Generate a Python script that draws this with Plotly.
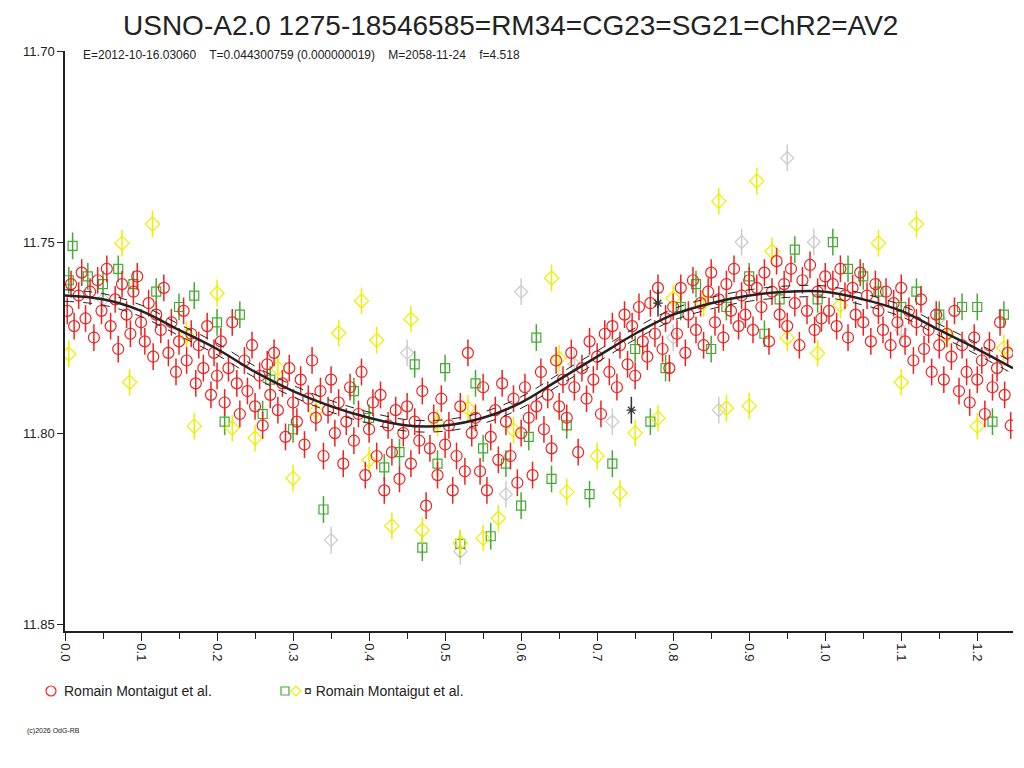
import plotly.graph_objects as go

red_phase = [0.003,0.008,0.012,0.018,0.022,0.027,0.033,0.038,0.043,0.048,0.055,0.06,0.066,0.07,0.075,0.081,0.086,0.09,0.095,0.1,
0.105,0.11,0.116,0.12,0.126,0.13,0.136,0.14,0.146,0.15,0.156,0.16,0.166,0.172,0.176,0.182,0.187,0.192,0.196,0.2,
0.205,0.21,0.215,0.22,0.226,0.23,0.236,0.24,0.246,0.25,0.256,0.26,0.266,0.27,0.275,0.28,0.286,0.29,0.295,0.3,
0.305,0.31,0.315,0.32,0.325,0.33,0.336,0.34,0.346,0.35,0.355,0.36,0.366,0.37,0.375,0.38,0.386,0.39,0.395,0.4,
0.405,0.41,0.415,0.42,0.425,0.43,0.435,0.44,0.445,0.45,0.455,0.46,0.466,0.47,0.475,0.48,0.485,0.49,0.495,0.5,
0.505,0.51,0.515,0.52,0.526,0.53,0.535,0.54,0.546,0.55,0.555,0.56,0.566,0.57,0.575,0.58,0.586,0.59,0.595,0.6,
0.605,0.61,0.615,0.62,0.626,0.63,0.635,0.64,0.646,0.65,0.655,0.66,0.666,0.67,0.675,0.68,0.686,0.69,0.695,0.7,
0.705,0.71,0.716,0.72,0.726,0.73,0.736,0.74,0.746,0.75,0.755,0.76,0.766,0.77,0.776,0.78,0.786,0.79,0.795,0.8,
0.805,0.81,0.816,0.82,0.826,0.83,0.836,0.84,0.846,0.85,0.855,0.86,0.866,0.87,0.876,0.88,0.886,0.89,0.895,0.9,
0.905,0.91,0.916,0.92,0.926,0.93,0.936,0.94,0.946,0.95,0.955,0.96,0.966,0.97,0.976,0.98,0.986,0.99,0.995,1.0,
1.005,1.01,1.015,1.02,1.026,1.03,1.036,1.04,1.046,1.05,1.055,1.06,1.066,1.07,1.076,1.08,1.086,1.09,1.095,1.1,
1.105,1.11,1.116,1.12,1.126,1.13,1.136,1.14,1.146,1.15,1.156,1.16,1.166,1.17,1.176,1.18,1.186,1.19,1.196,1.2,
1.206,1.21,1.216,1.22,1.226,1.23,1.236,1.24,1.244]
red_mag = [11.768,11.761,11.772,11.764,11.758,11.770,11.763,11.775,11.760,11.768,11.757,11.772,11.765,11.778,11.761,11.769,11.774,11.763,11.759,11.771,
11.776,11.766,11.780,11.769,11.773,11.762,11.779,11.771,11.784,11.776,11.768,11.781,11.774,11.787,11.777,11.783,11.772,11.790,11.779,11.785,
11.776,11.792,11.783,11.771,11.787,11.795,11.781,11.789,11.777,11.793,11.785,11.798,11.782,11.790,11.779,11.794,11.787,11.801,11.783,11.792,
11.797,11.786,11.803,11.791,11.781,11.796,11.789,11.806,11.794,11.786,11.800,11.792,11.808,11.797,11.788,11.802,11.795,11.784,11.811,11.799,
11.792,11.806,11.790,11.815,11.798,11.805,11.794,11.812,11.800,11.793,11.808,11.797,11.802,11.789,11.819,11.804,11.796,11.811,11.791,11.803,
11.798,11.815,11.806,11.793,11.810,11.779,11.800,11.796,11.810,11.788,11.815,11.801,11.794,11.807,11.787,11.797,11.806,11.791,11.813,11.800,
11.788,11.796,11.811,11.793,11.784,11.799,11.790,11.804,11.781,11.793,11.786,11.796,11.779,11.788,11.805,11.783,11.791,11.776,11.786,11.780,
11.795,11.774,11.784,11.772,11.788,11.777,11.769,11.782,11.772,11.785,11.767,11.776,11.780,11.766,11.774,11.762,11.778,11.770,11.783,11.767,
11.774,11.762,11.779,11.769,11.760,11.773,11.766,11.777,11.763,11.758,11.771,11.765,11.775,11.761,11.768,11.757,11.772,11.764,11.769,11.760,
11.773,11.762,11.767,11.758,11.776,11.763,11.755,11.769,11.761,11.772,11.757,11.766,11.777,11.760,11.768,11.756,11.773,11.763,11.770,11.759,
11.768,11.761,11.772,11.757,11.764,11.775,11.762,11.769,11.758,11.771,11.764,11.776,11.761,11.768,11.773,11.763,11.777,11.766,11.771,11.762,
11.776,11.768,11.781,11.771,11.765,11.778,11.773,11.784,11.769,11.777,11.786,11.774,11.780,11.768,11.789,11.777,11.784,11.792,11.775,11.786,
11.781,11.795,11.777,11.788,11.783,11.771,11.790,11.779,11.798]

green_phase = [0.005,0.01,0.03,0.05,0.07,0.09,0.12,0.15,0.17,0.2,0.21,0.23,0.26,0.27,0.3,0.34,0.38,0.4,0.42,0.44,
0.46,0.47,0.49,0.5,0.52,0.54,0.55,0.56,0.58,0.6,0.61,0.62,0.64,0.66,0.69,0.72,0.75,0.77,0.79,0.81,
0.83,0.85,0.87,0.9,0.92,0.94,0.96,0.99,1.01,1.03,1.05,1.07,1.1,1.12,1.15,1.18,1.2,1.22,1.235]
green_mag = [11.760,11.751,11.759,11.761,11.757,11.761,11.763,11.767,11.764,11.771,11.797,11.769,11.795,11.786,11.799,11.820,11.789,11.796,11.809,11.805,
11.782,11.830,11.808,11.783,11.829,11.787,11.804,11.827,11.808,11.819,11.801,11.775,11.812,11.798,11.816,11.808,11.778,11.797,11.783,11.767,
11.761,11.778,11.767,11.759,11.774,11.765,11.752,11.765,11.750,11.757,11.759,11.763,11.767,11.763,11.769,11.767,11.767,11.797,11.769]

yellow_phase = [0.005,0.075,0.085,0.115,0.16,0.17,0.2,0.22,0.25,0.28,0.3,0.33,0.36,0.39,0.4,0.41,0.43,0.455,0.47,0.49,
0.52,0.53,0.55,0.57,0.59,0.64,0.65,0.66,0.7,0.73,0.75,0.78,0.8,0.84,0.86,0.87,0.9,0.91,0.93,0.95,
0.99,1.02,1.07,1.1,1.12,1.16,1.2,1.235]
yellow_mag = [11.7793,11.7503,11.7867,11.7453,11.7743,11.7982,11.7634,11.7987,11.8013,11.7830,11.8118,11.7942,11.7738,11.7654,11.8071,11.7757,11.8243,11.7702,11.8254,11.7974,
11.8288,11.7935,11.8275,11.8223,11.7992,11.7594,11.7804,11.8154,11.8060,11.8157,11.8000,11.7961,11.7647,11.7660,11.7393,11.7935,11.7929,11.7340,11.7524,11.7751,
11.7791,11.7665,11.7503,11.7867,11.7453,11.7743,11.7982,11.7777]

grey_phase = [0.05,0.35,0.45,0.52,0.58,0.6,0.67,0.72,0.8,0.86,0.89,0.95,0.985,1.1,1.15]
grey_mag = [11.765,11.828,11.779,11.831,11.816,11.763,11.782,11.797,11.775,11.794,11.750,11.728,11.750,11.773,11.770]

star_phase = [0.745,0.78]
star_mag = [11.794,11.766]

fit_phase = [0.0,0.05,0.1,0.15,0.2,0.25,0.3,0.35,0.4,0.45,0.5,0.55,0.6,0.65,0.7,0.75,0.8,0.85,0.9,0.95,1.0,1.05,1.1,1.15,1.2,1.247]
fit_mag = [11.764,11.765,11.768,11.773,11.778,11.784,11.789,11.793,11.796,11.798,11.798,11.796,11.792,11.786,11.780,11.774,11.769,11.766,11.764,11.763,11.763,11.765,11.768,11.773,11.778,11.783]
fit_err = 0.0015
point_err = 0.0035

x_ticks = [0.0,0.1,0.2,0.3,0.4,0.5,0.6,0.7,0.8,0.9,1.0,1.1,1.2]
y_ticks = [11.70,11.75,11.80,11.85]

FONT = "Liberation Sans, Arial, sans-serif"
fig = go.Figure()

def pts(xs, ys, color, symbol, size):
    fig.add_trace(go.Scatter(
        x=xs, y=ys, mode="markers", showlegend=False,
        marker=dict(symbol=symbol, size=size, color=color, line=dict(color=color, width=1.2)),
        error_y=dict(type="constant", value=point_err, color=color, thickness=1.5, width=0)))

pts(grey_phase, grey_mag, "#cccccc", "diamond-open", 10)
pts(green_phase, green_mag, "#44aa33", "square-open", 9)
pts(yellow_phase, yellow_mag, "#eeee00", "diamond-open", 11)
pts(red_phase, red_mag, "#ee2222", "circle-open", 11)
pts(star_phase, star_mag, "#333333", "asterisk-open", 8)

fig.add_trace(go.Scatter(x=fit_phase, y=[m - fit_err for m in fit_mag], mode="lines", showlegend=False,
                         line=dict(color="#222222", width=1, dash="dash", shape="spline")))
fig.add_trace(go.Scatter(x=fit_phase, y=[m + fit_err for m in fit_mag], mode="lines", showlegend=False,
                         line=dict(color="#222222", width=1, dash="dash", shape="spline")))
fig.add_trace(go.Scatter(x=fit_phase, y=fit_mag, mode="lines", showlegend=False,
                         line=dict(color="#222222", width=2.5, shape="spline")))

fig.update_layout(
    width=1024, height=768, paper_bgcolor="white", plot_bgcolor="white",
    margin=dict(l=57, r=19, t=43, b=145, autoexpand=False),
    font=dict(family=FONT, color="#222222", size=12),
    xaxis=dict(range=[0, 1.247], tickvals=x_ticks, ticktext=[f"{v:.1f}" for v in x_ticks],
               tickangle=90, ticks="outside", ticklen=8, tickcolor="#222", showgrid=False,
               zeroline=False, showline=True, linecolor="#222", linewidth=1.5, automargin=False,
               tickfont=dict(size=13), minor=dict(dtick=0.05, ticks="outside", ticklen=6, tickcolor="#222")),
    yaxis=dict(range=[11.8518, 11.70], tickvals=y_ticks, ticktext=[f"{v:.2f}" for v in y_ticks],
               ticks="outside", ticklen=6, tickcolor="#222", showgrid=False, zeroline=False, automargin=False,
               showline=True, linecolor="#222", linewidth=1.5, tickfont=dict(size=13)),
)

fig.add_annotation(x=0.47, y=1.0, xref="paper", yref="paper", yshift=43, yanchor="top",
                   text="USNO-A2.0 1275-18546585=RM34=CG23=SG21=ChR2=AV2", showarrow=False,
                   font=dict(size=28, family=FONT, color="#222"))
fig.add_annotation(x=16/948, y=1.0, xref="paper", yref="paper", yshift=5, xanchor="left", yanchor="top",
                   text="E=2012-10-16.03060    T=0.044300759 (0.000000019)    M=2058-11-24    f=4.518",
                   showarrow=False, font=dict(size=12, family=FONT, color="#222"))

# legend
fig.add_shape(type="circle", xref="paper", yref="paper",
              x0=-19/948, x1=-9/948, y0=-65/580, y1=-55/580, line=dict(color="#ee2222", width=1.2))
fig.add_annotation(x=-3/948, y=-60/580, xref="paper", yref="paper", xanchor="left", yanchor="middle",
                   text="Romain Montaigut et al.", showarrow=False, font=dict(size=14, family=FONT, color="#222"))
fig.add_shape(type="rect", xref="paper", yref="paper",
              x0=216/948, x1=224/948, y0=-64/580, y1=-56/580, line=dict(color="#44aa33", width=1.2))
fig.add_shape(type="path", xref="paper", yref="paper",
              path=f"M {226/948} {-60/580} L {231/948} {-55/580} L {236/948} {-60/580} L {231/948} {-65/580} Z",
              line=dict(color="#eeee00", width=1.2))
fig.add_annotation(x=237/948, y=-60/580, xref="paper", yref="paper", xanchor="left", yanchor="middle",
                   text="¤ Romain Montaigut et al.", showarrow=False, font=dict(size=14, family=FONT, color="#222"))
fig.add_annotation(x=-40/948, y=-100/580, xref="paper", yref="paper", xanchor="left", yanchor="middle",
                   text="(c)2026 OdG-RB", showarrow=False, font=dict(size=7, family=FONT, color="#222"))

fig.write_html("out.html")
